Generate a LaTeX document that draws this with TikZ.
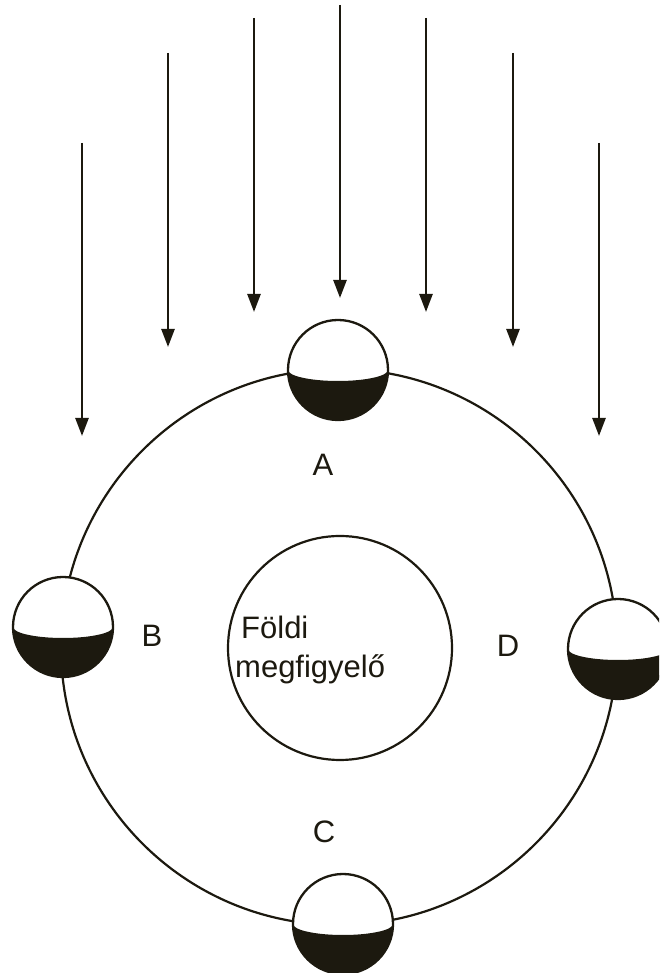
\documentclass[tikz,border=0pt]{standalone}
\usepackage{fontspec}
\setmainfont{Liberation Sans}
\usetikzlibrary{arrows.meta}
\definecolor{ink}{RGB}{28,25,15}
\begin{document}
\begin{tikzpicture}[x=1pt,y=1pt,
  line/.style={draw=ink,line width=2.2pt},
  ray/.style={draw=ink,line width=2.5pt,-{Triangle[width=13pt,length=18pt]}},
  lbl/.style={font=\fontsize{31}{39}\selectfont,text=ink,inner sep=0pt,anchor=base},
  txt/.style={font=\fontsize{31}{39}\selectfont,text=ink,inner sep=0pt,anchor=base west},
  moon/.pic={
    \fill[white] (0,0) circle[radius=50];
    \fill[ink] (-50,0) arc[start angle=180,end angle=360,radius=50]
      arc[start angle=0,end angle=-180,x radius=50,y radius=11] -- cycle;
    \draw[ink,line width=2.3pt] (0,0) circle[radius=50];
  }]
\useasboundingbox (0,0) rectangle (659,973);
\clip (0,0) rectangle (659,973);

% sunlight rays
\foreach \n/\x/\ys/\ye in {1/82/830/537, 2/168/920/626, 3/254/955/661, 4/340/968/675,
                           5/426/955/661, 6/513/920/626, 7/599/830/537}{
  \coordinate (s\n) at (\x,\ys);
  \coordinate (e\n) at (\x,\ye);
  \draw[ray] (s\n) -- (e\n);
}

% orbit of the Moon
\node[circle,line,minimum size=556pt,inner sep=0pt] (orbit) at (339,326) {};

% Earth with the observer
\node[circle,line,minimum size=224pt,inner sep=0pt] (earth) at (340,325) {};
\node[txt] (t1) at (241,334) {Földi};
\node[txt] (t2) at (235,295) {megfigyelő};

% Moon positions
\pic (mA) at (338,603) {moon};
\pic (mB) at (63,346) {moon};
\pic (mC) at (343,49) {moon};
\pic (mD) at (618,324) {moon};

% position labels
\node[lbl] (A) at (323,497) {A};
\node[lbl] (B) at (152,326) {B};
\node[lbl] (C) at (324,130) {C};
\node[lbl] (D) at (508,316) {D};
\end{tikzpicture}
\end{document}
